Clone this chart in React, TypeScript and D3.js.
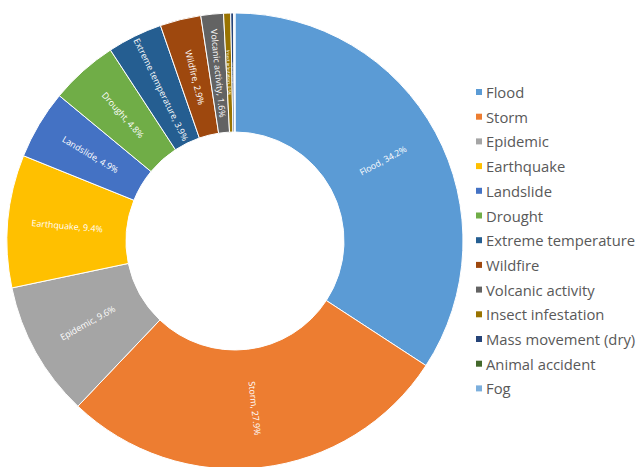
import React, { useEffect, useRef } from 'react';
import * as d3 from 'd3';

const categories = [
    'Flood', 'Storm', 'Epidemic', 'Earthquake', 'Landslide', 'Drought',
    'Extreme temperature', 'Wildfire', 'Volcanic activity', 'Insect infestation',
    'Mass movement (dry)', 'Animal accident', 'Fog'
];
const shares = [34.2, 27.9, 9.6, 9.4, 4.9, 4.8, 3.9, 2.9, 1.6, 0.5, 0.2, 0.05, 0.05];
const colors = [
    '#5B9BD5', '#ED7D31', '#A5A5A5', '#FFC000', '#4472C4', '#70AD47',
    '#255E91', '#9E480E', '#636363', '#997300', '#264478', '#43682B', '#7CAFDD'
];

const W = 641;
const H = 467;

interface Slice {
    name: string;
    value: number;
    color: string;
}

const App: React.FC = () => {
    const svgRef = useRef<SVGSVGElement>(null);

    useEffect(() => {
        if (!svgRef.current) return;
        const svg = d3.select(svgRef.current);
        svg.selectAll('*').remove();

        const data: Slice[] = categories.map((name, i) => ({ name, value: shares[i], color: colors[i] }));

        const cx = 235;
        const cy = 241;
        const outerR = 228;
        const innerR = 109;

        const pie = d3.pie<Slice>().sort(null).value(d => d.value);
        const arc = d3.arc<d3.PieArcDatum<Slice>>().innerRadius(innerR).outerRadius(outerR);
        const arcs = pie(data);

        const g = svg.append('g').attr('transform', `translate(${cx},${cy})`);

        g.selectAll('path.slice')
            .data(arcs)
            .enter()
            .append('path')
            .attr('class', 'slice')
            .attr('d', arc)
            .attr('fill', d => d.data.color)
            .attr('stroke', '#fff')
            .attr('stroke-width', 1);

        // radial labels, kept readable (rotation within -90..90)
        const midR = (innerR + outerR) / 2;
        g.selectAll('text.lbl')
            .data(arcs.filter(d => d.data.value >= 0.2))
            .enter()
            .append('text')
            .attr('class', 'lbl')
            .attr('transform', d => {
                const a = (d.startAngle + d.endAngle) / 2;
                const x = midR * Math.sin(a);
                const y = -midR * Math.cos(a);
                let rot = Math.atan2(y, x) * 180 / Math.PI;
                if (rot > 90) rot -= 180;
                if (rot < -90) rot += 180;
                return `translate(${x},${y}) rotate(${rot})`;
            })
            .attr('text-anchor', 'middle')
            .attr('dominant-baseline', 'central')
            .attr('fill', '#fff')
            .attr('font-family', '"Open Sans", sans-serif')
            .attr('font-size', d => {
                const w = (d.endAngle - d.startAngle) * midR;
                return Math.min(8.8, w * 0.8);
            })
            .text(d => `${d.data.name}, ${d.data.value.toFixed(1)}%`);

        // legend
        const legend = svg.append('g').attr('transform', 'translate(476,92)');
        const step = 24.7;
        const rows = legend.selectAll('g.row')
            .data(data)
            .enter()
            .append('g')
            .attr('class', 'row')
            .attr('transform', (_, i) => `translate(0,${i * step})`);

        rows.append('rect')
            .attr('x', 0)
            .attr('y', -3)
            .attr('width', 6)
            .attr('height', 6)
            .attr('fill', d => d.color);

        rows.append('text')
            .attr('x', 10)
            .attr('y', 0)
            .attr('dominant-baseline', 'central')
            .attr('fill', '#595959')
            .attr('font-family', '"Open Sans", sans-serif')
            .attr('font-size', 14.8)
            .text(d => d.name);
    }, []);

    return (
        <svg
            ref={svgRef}
            width={W}
            height={H}
            style={{ position: 'absolute', left: 0, top: 0, background: '#fff' }}
        />
    );
};

export default App;
